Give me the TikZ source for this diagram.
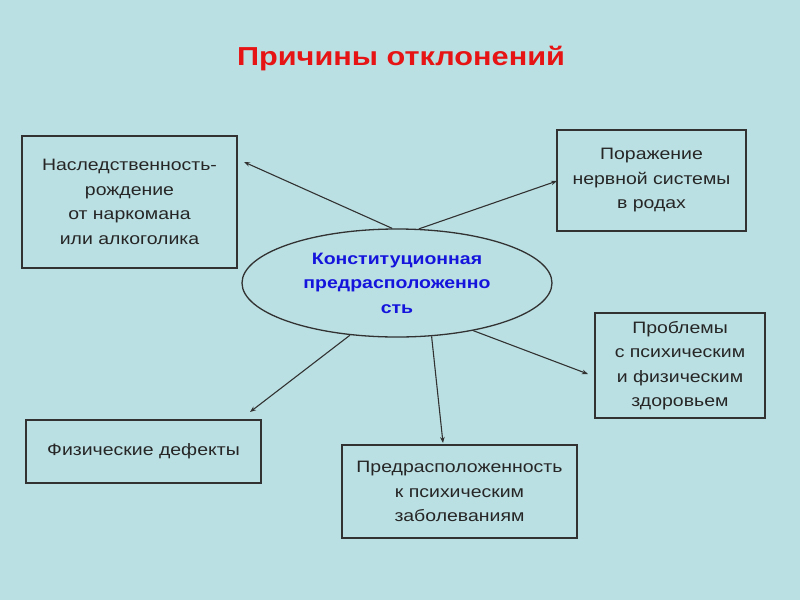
\documentclass[tikz,border=0pt]{standalone}
\usepackage{fontspec}
\setmainfont{Liberation Sans}[FakeStretch=1.18]
\usetikzlibrary{shapes.geometric,arrows.meta}
\definecolor{bg}{RGB}{187,224,227}
\definecolor{ln}{RGB}{50,50,50}
\definecolor{ttl}{RGB}{230,20,20}
\definecolor{blu}{RGB}{20,20,220}
\begin{document}
\begin{tikzpicture}[x=1pt,y=-1pt,
  box/.style={draw=ln,line width=1.3pt,rectangle,inner sep=0pt,align=center,
    font=\fontsize{16.5}{24.5}\selectfont,text=black!85},
  conn/.style={draw=ln,line width=1.1pt,-{Stealth[length=6pt,width=4.5pt]}}]
\fill[bg] (0,0) rectangle (800,600);
\useasboundingbox (0,0) rectangle (800,600);
\node[text=ttl,font=\fontsize{26}{30}\selectfont\bfseries] (title) at (401,59) {Причины отклонений};
\node[ellipse,draw=ln,line width=1.3pt,minimum width=310pt,minimum height=108pt,inner sep=0pt,
  align=center,text=blu,font=\fontsize{16.5}{24.5}\selectfont\bfseries] (c) at (397,283)
  {Конституционная\\предрасположенно\\сть};
\node[box,minimum width=215pt,minimum height=132pt] (b1) at (129.5,202)
  {Наследственность-\\рождение\\ от наркомана\\или алкоголика};
\node[box,minimum width=189pt,minimum height=101pt] (b2) at (651.5,180.5)
  {Поражение\\нервной системы\\в родах};
\node[box,minimum width=170pt,minimum height=105pt] (b3) at (680,365.5)
  {Проблемы\\с психическим\\и физическим\\здоровьем};
\node[box,minimum width=235pt,minimum height=63pt] (b4) at (143.5,451.5)
  {Физические дефекты};
\node[box,minimum width=235pt,minimum height=93pt] (b5) at (459.5,491.5)
  {Предрасположенность\\к психическим\\заболеваниям};
\coordinate (e1) at (244,162);
\coordinate (e2) at (557,181);
\coordinate (e3) at (250,412);
\coordinate (e4) at (443,443);
\coordinate (e5) at (588,374);
\draw[conn] (c.95.4) -- (e1);
\draw[conn] (c.68) -- (e2);
\draw[conn] (c.228) -- (e3);
\draw[conn] (c.303) -- (e4);
\draw[conn] (c.328) -- (e5);
\end{tikzpicture}
\end{document}
